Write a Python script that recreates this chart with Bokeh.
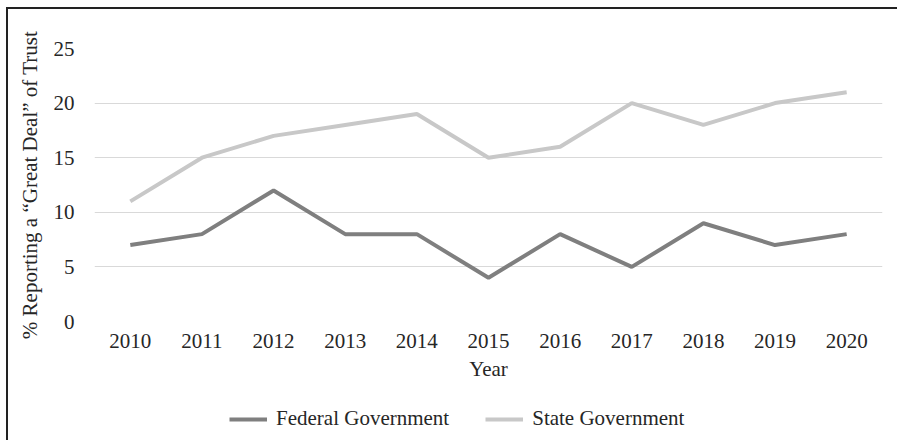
from bokeh.plotting import figure
from bokeh.models import Legend, LegendItem, InlineStyleSheet
from bokeh.layouts import column
from bokeh.embed import file_html
from bokeh.resources import INLINE

years = ["2010", "2011", "2012", "2013", "2014", "2015", "2016", "2017", "2018", "2019", "2020"]
federal = [7, 8, 12, 8, 8, 4, 8, 5, 9, 7, 8]
state = [11, 15, 17, 18, 19, 15, 16, 20, 18, 20, 21]
y_ticks = [0, 5, 10, 15, 20, 25]

FONT = "Liberation Serif"
TXT = "#262626"
FED_C = "#7f7f7f"
STATE_C = "#c8c8c8"

p = figure(x_range=years, y_range=(0, 25), width=897, height=398,
           output_backend="svg", toolbar_location=None,
           min_border_left=94, min_border_right=15, min_border_top=48, min_border_bottom=77)
p.outline_line_color = None

p.line(years, federal, line_color=FED_C, line_width=4)
p.line(years, state, line_color=STATE_C, line_width=4)

p.yaxis.ticker = y_ticks
p.ygrid.grid_line_color = "#d9d9d9"
p.ygrid.grid_line_width = 1
p.xgrid.grid_line_color = None

for ax in (p.xaxis[0], p.yaxis[0]):
    ax.axis_line_color = None
    ax.major_tick_line_color = None
    ax.minor_tick_line_color = None
    ax.major_label_text_font = FONT
    ax.major_label_text_font_size = "21px"
    ax.major_label_text_color = TXT
    ax.axis_label_text_font = FONT
    ax.axis_label_text_font_size = "21px"
    ax.axis_label_text_font_style = "normal"
    ax.axis_label_text_color = TXT

p.xaxis.axis_label = "Year"
p.xaxis.major_label_standoff = 6
p.xaxis.axis_label_standoff = 6
p.yaxis.axis_label = "% Reporting a \u201cGreat Deal\u201d of Trust"
p.yaxis.major_label_standoff = 14
p.yaxis.axis_label_standoff = 9

# legend strip below the chart
lg = figure(x_range=years, y_range=(0, 25), width=897, height=42,
            output_backend="svg", toolbar_location=None,
            x_axis_location=None, y_axis_location=None,
            min_border_left=0, min_border_right=0, min_border_top=0, min_border_bottom=0)
lg.grid.visible = False
lg.outline_line_color = None
l1 = lg.line(years, federal, line_color=FED_C, line_width=4, visible=False)
l2 = lg.line(years, state, line_color=STATE_C, line_width=4, visible=False)

legend = Legend(items=[LegendItem(label="Federal Government", renderers=[l1]),
                       LegendItem(label="State Government", renderers=[l2])],
                orientation="horizontal", location=(135, 9),
                label_text_font=FONT, label_text_font_size="21px", label_text_color=TXT,
                glyph_width=38, label_standoff=9, spacing=36,
                border_line_color=None, background_fill_alpha=0,
                margin=0, padding=0)
lg.add_layout(legend, "center")

frame_css = InlineStyleSheet(css="""
:host { position: relative; }
:host::after { content: ""; position: absolute; left: 6px; top: 7px; right: 0; bottom: 0;
  border-left: 2px solid #222; border-top: 2px solid #222; pointer-events: none; z-index: 10; }
""")
layout = column(p, lg, spacing=0, stylesheets=[frame_css])

open("out.html", "w").write(file_html(layout, INLINE))
